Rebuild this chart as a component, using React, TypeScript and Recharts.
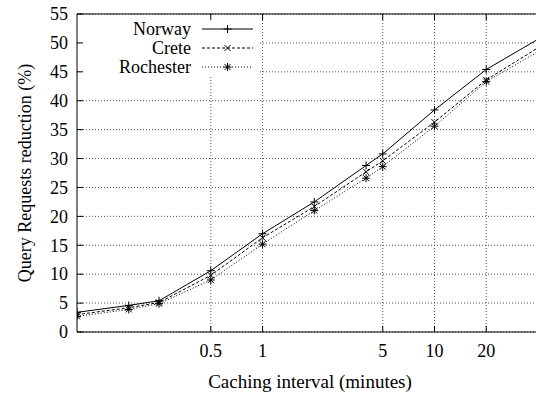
import React from "react";
import {
  LineChart,
  Line,
  XAxis,
  YAxis,
  CartesianGrid,
  Customized,
} from "recharts";

// caching interval in minutes (5s, 10s, 15s, 30s, ...)
const intervals = [1 / 12, 1 / 6, 1 / 4, 0.5, 1, 2, 4, 5, 10, 20, 60];
const norway = [3.4, 4.6, 5.4, 10.6, 17.0, 22.5, 28.8, 30.8, 38.4, 45.4, 53.7];
const crete = [3.0, 4.2, 5.1, 9.8, 16.3, 21.7, 27.7, 29.6, 36.3, 43.6, 52.4];
const rochester = [2.7, 3.9, 4.9, 9.0, 15.2, 21.0, 26.6, 28.6, 35.6, 43.3, 51.5];

const xTicks = [0.5, 1, 5, 10, 20];
const yTicks = [0, 5, 10, 15, 20, 25, 30, 35, 40, 45, 50, 55];
const seriesNames = ["Norway", "Crete", "Rochester"];

const data = intervals.map((t, i) => ({
  t,
  norway: norway[i],
  crete: crete[i],
  rochester: rochester[i],
}));

const FONT = "Liberation Serif, DejaVu Serif, serif";
const FS = 18;
const txt = { fontFamily: FONT, fontSize: FS, fill: "#000" };

type MarkKind = "plus" | "cross" | "star";

function markPath(cx: number, cy: number, kind: MarkKind) {
  const p = 4;
  const c = 3;
  const plus = `M${cx - p},${cy}H${cx + p}M${cx},${cy - p}V${cy + p}`;
  const cross = `M${cx - c},${cy - c}L${cx + c},${cy + c}M${cx - c},${cy + c}L${cx + c},${cy - c}`;
  if (kind === "plus") return plus;
  if (kind === "cross") return cross;
  return plus + cross;
}

const makeDot = (kind: MarkKind) => (props: any) => {
  const { cx, cy, index } = props;
  if (cx == null || cy == null) return <g key={index} />;
  return (
    <path key={index} d={markPath(cx, cy, kind)} stroke="#000" strokeWidth={1} fill="none" />
  );
};

const styles: { key: string; dash?: string; mark: MarkKind }[] = [
  { key: "norway", mark: "plus" },
  { key: "crete", dash: "3 2", mark: "cross" },
  { key: "rochester", dash: "1 2", mark: "star" },
];

function KeyBox() {
  return (
    <g>
      <rect x={78} y={15} width={180} height={62} fill="#fff" />
      {seriesNames.map((name, i) => {
        const y = 29 + i * 19;
        const s = styles[i];
        return (
          <g key={name}>
            <text x={191} y={y} dy="0.35em" textAnchor="end" style={txt}>
              {name}
            </text>
            <line
              x1={202}
              x2={253}
              y1={y}
              y2={y}
              stroke="#000"
              strokeWidth={1}
              strokeDasharray={s.dash}
            />
            <path d={markPath(227.5, y, s.mark)} stroke="#000" strokeWidth={1} fill="none" />
          </g>
        );
      })}
    </g>
  );
}

function Titles() {
  return (
    <g>
      <text x={310} y={388} textAnchor="middle" style={{ ...txt, fontSize: 19 }}>
        Caching interval (minutes)
      </text>
      <text
        x={25}
        y={173}
        textAnchor="middle"
        dominantBaseline="central"
        transform="rotate(-90, 25, 173)"
        style={txt}
      >
        Query Requests reduction (%)
      </text>
    </g>
  );
}

const BottomTick = (props: any) => {
  const { x, y, payload } = props;
  return (
    <g>
      <line x1={x} x2={x} y1={y - 12} y2={y - 18} stroke="#000" />
      <text x={x} y={y} dy="0.71em" textAnchor="middle" style={txt}>
        {payload.value}
      </text>
    </g>
  );
};

const TopTick = (props: any) => {
  const { x, y } = props;
  return <line x1={x} x2={x} y1={y} y2={y + 6} stroke="#000" />;
};

const LeftTick = (props: any) => {
  const { x, y, payload } = props;
  return (
    <g>
      <line x1={x + 9} x2={x + 15} y1={y} y2={y} stroke="#000" />
      <text x={x} y={y} dy="0.35em" textAnchor="end" style={txt}>
        {payload.value}
      </text>
    </g>
  );
};

export default function App() {
  return (
    <div
      style={{
        position: "absolute",
        left: 0,
        top: 0,
        width: 536,
        height: 393,
        overflow: "hidden",
        background: "#fff",
        fontFamily: FONT,
      }}
    >
      <LineChart
        width={560}
        height={393}
        data={data}
        margin={{ top: 0, right: 22, bottom: 0, left: 0 }}
      >
        <CartesianGrid
          stroke="#555"
          strokeDasharray="1 2"
          verticalValues={xTicks}
          horizontalValues={yTicks}
        />
        <XAxis
          dataKey="t"
          type="number"
          scale="log"
          domain={[1 / 12, 40]}
          allowDataOverflow
          ticks={xTicks}
          height={61}
          tickSize={0}
          tickMargin={12}
          tickLine={false}
          axisLine={{ stroke: "#000" }}
          tick={<BottomTick />}
        />
        <XAxis
          xAxisId="top"
          orientation="top"
          dataKey="t"
          type="number"
          scale="log"
          domain={[1 / 12, 40]}
          allowDataOverflow
          ticks={xTicks}
          height={14}
          tickSize={0}
          tickMargin={0}
          tickLine={false}
          axisLine={{ stroke: "#000" }}
          tick={<TopTick />}
        />
        <YAxis
          type="number"
          domain={[0, 55]}
          ticks={yTicks}
          width={77}
          tickSize={0}
          tickMargin={9}
          tickLine={false}
          axisLine={{ stroke: "#000" }}
          tick={<LeftTick />}
          interval={0}
        />
        {styles.map((s) => (
          <Line
            key={s.key}
            dataKey={s.key}
            type="linear"
            stroke="#000"
            strokeWidth={1}
            strokeDasharray={s.dash}
            dot={makeDot(s.mark)}
            activeDot={false}
            isAnimationActive={false}
          />
        ))}
        <Customized component={<KeyBox />} />
        <Customized component={<Titles />} />
      </LineChart>
    </div>
  );
}
